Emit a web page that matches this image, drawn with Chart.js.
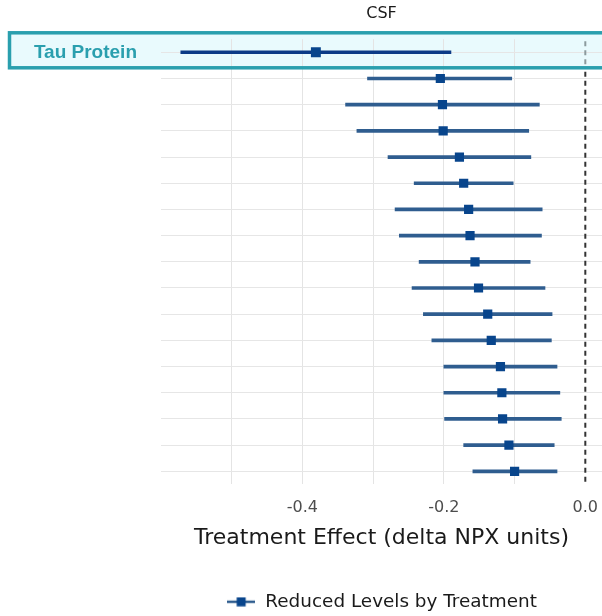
<!DOCTYPE html>
<html>
<head>
<meta charset="utf-8">
<title>CSF Treatment Effect</title>
<script src="https://cdn.jsdelivr.net/npm/chart.js@4.4.1/dist/chart.umd.min.js"></script>
<style>
    body { margin: 0; background: #ffffff; }
    #wrap { width: 602px; height: 616px; position: relative; }
</style>
</head>
<body>
<div id="wrap"><canvas id="forestChart"></canvas></div>
<script>
// Rows top to bottom (only the first one is labelled in the source)
const proteins = ['Tau Protein', '', '', '', '', '', '', '', '', '', '', '', '', '', '', '', ''];
const estimates = [-0.381, -0.205, -0.202, -0.201, -0.178, -0.172, -0.165, -0.163, -0.156, -0.151, -0.138, -0.133, -0.120, -0.118, -0.117, -0.108, -0.100];
const lower = [-0.572, -0.308, -0.339, -0.323, -0.279, -0.242, -0.269, -0.263, -0.235, -0.245, -0.229, -0.217, -0.200, -0.200, -0.199, -0.172, -0.159];
const upper = [-0.190, -0.104, -0.065, -0.080, -0.077, -0.102, -0.061, -0.062, -0.078, -0.057, -0.047, -0.048, -0.040, -0.036, -0.034, -0.044, -0.040];
const majorTicks = [-0.4, -0.2, 0.0];
const highlighted = 'Tau Protein';

const lineColor = '#2f5d8f';
const pointColor = '#08458c';
const teal = '#2a9fae';

// legend icon: short line with a square on it
function legendIcon() {
    const c = document.createElement('canvas');
    c.width = 28;
    c.height = 10;
    const g = c.getContext('2d');
    g.strokeStyle = lineColor;
    g.lineWidth = 2.5;
    g.beginPath();
    g.moveTo(0, 5);
    g.lineTo(28, 5);
    g.stroke();
    g.fillStyle = pointColor;
    g.fillRect(9.5, 0.5, 9, 9);
    return c;
}

// vertical extent of the highlight box round the Tau row
function boxBounds(chart) {
    const y = chart.scales.y.getPixelForValue(proteins.indexOf(highlighted)) - 2;
    return { top: y - 17.5, bottom: y + 17.5 };
}

// light fill behind the Tau row (grid is drawn on top of it)
const highlightFill = {
    id: 'highlightFill',
    beforeDraw(chart) {
        const { ctx } = chart;
        const b = boxBounds(chart);
        ctx.save();
        ctx.fillStyle = '#e9fafd';
        ctx.fillRect(9.5, b.top, 640, b.bottom - b.top);
        ctx.restore();
    },
    afterDatasetsDraw(chart) {
        const { ctx } = chart;
        const b = boxBounds(chart);
        ctx.save();
        ctx.strokeStyle = teal;
        ctx.lineWidth = 3.5;
        ctx.strokeRect(9.5, b.top, 640, b.bottom - b.top);
        ctx.restore();
    }
};

// dashed reference line at zero (paler inside the highlight box)
const zeroLine = {
    id: 'zeroLine',
    beforeDatasetsDraw(chart) {
        const { ctx, chartArea, scales } = chart;
        const x = scales.x.getPixelForValue(0);
        const b = boxBounds(chart);
        ctx.save();
        ctx.lineWidth = 2;
        ctx.setLineDash([5, 4]);
        ctx.strokeStyle = '#8c9a9d';
        ctx.beginPath();
        ctx.moveTo(x, chartArea.top + 2);
        ctx.lineTo(x, b.bottom);
        ctx.stroke();
        ctx.strokeStyle = '#333333';
        ctx.beginPath();
        ctx.moveTo(x, b.bottom + 4);
        ctx.lineTo(x, chartArea.bottom);
        ctx.stroke();
        ctx.restore();
    }
};

const ctx = document.getElementById('forestChart');
new Chart(ctx, {
    type: 'bar',
    data: {
        labels: proteins,
        datasets: [
            {
                label: 'CI',
                indexAxis: 'y',
                data: proteins.map((p, i) => [lower[i], upper[i]]),
                backgroundColor: proteins.map(p => p === highlighted ? '#0c3a86' : lineColor),
                barThickness: proteins.map(p => p === highlighted ? 3 : 2.5),
                borderWidth: 0,
                order: 2
            },
            {
                type: 'line',
                label: 'Reduced Levels by Treatment',
                indexAxis: 'y',
                data: estimates,
                showLine: false,
                pointStyle: 'rect',
                pointRadius: proteins.map(p => p === highlighted ? 7 : 6.5),
                pointBackgroundColor: pointColor,
                pointBorderColor: pointColor,
                pointBorderWidth: 0,
                order: 1
            }
        ]
    },
    options: {
        indexAxis: 'y',
        responsive: true,
        maintainAspectRatio: false,
        animation: false,
        layout: { autoPadding: false, padding: { top: 0, right: 0, bottom: -5, left: 0 } },
        plugins: {
            title: {
                display: true,
                text: 'CSF',
                fullSize: false,
                color: '#1a1a1a',
                font: { family: 'DejaVu Sans', size: 16, weight: 'normal', lineHeight: 1.2 },
                padding: { top: 4, bottom: 16 }
            },
            legend: {
                position: 'bottom',
                fullSize: false,
                labels: {
                    usePointStyle: true,
                    pointStyleWidth: 30,
                    color: '#1a1a1a',
                    font: { family: 'DejaVu Sans', size: 18.4 },
                    padding: 6,
                    filter: item => item.datasetIndex === 1,
                    generateLabels(chart) {
                        const items = Chart.defaults.plugins.legend.labels.generateLabels(chart);
                        items.forEach(item => { item.pointStyle = legendIcon(); });
                        return items;
                    }
                }
            },
            tooltip: { enabled: false }
        },
        scales: {
            x: {
                type: 'linear',
                min: -0.6,
                max: 0.0236,
                border: { display: false },
                grid: {
                    drawTicks: false,
                    color: c => {
                        const v = Math.round(c.tick.value * 10);
                        if (v === -6 || v === 0) return 'rgba(0,0,0,0)';
                        return '#e4e4e4';
                    }
                },
                ticks: {
                    stepSize: 0.1,
                    includeBounds: false,
                    maxRotation: 0,
                    autoSkip: false,
                    padding: 14,
                    color: '#4d4d4d',
                    font: { family: 'DejaVu Sans', size: 16, lineHeight: 1.2 },
                    callback: v => majorTicks.some(t => Math.abs(t - v) < 1e-6) ? v.toFixed(1) : ''
                },
                title: {
                    display: true,
                    text: 'Treatment Effect (delta NPX units)',
                    color: '#1a1a1a',
                    font: { family: 'DejaVu Sans', size: 22, lineHeight: 1.2 },
                    padding: { top: -7, bottom: 35.6 }
                },
                afterFit(scale) {
                    scale.paddingLeft = 0;
                    scale.paddingRight = 0;
                }
            },
            y: {
                type: 'category',
                offset: true,
                border: { display: false },
                grid: { drawTicks: false, offset: false, color: '#e6e6e6' },
                ticks: {
                    autoSkip: false,
                    padding: 24,
                    z: 1,
                    color: teal,
                    font: { family: 'Liberation Sans', size: 19, weight: 'bold' }
                },
                afterFit(scale) { scale.width = 161; }
            }
        }
    },
    plugins: [highlightFill, zeroLine]
});
</script>
</body>
</html>
